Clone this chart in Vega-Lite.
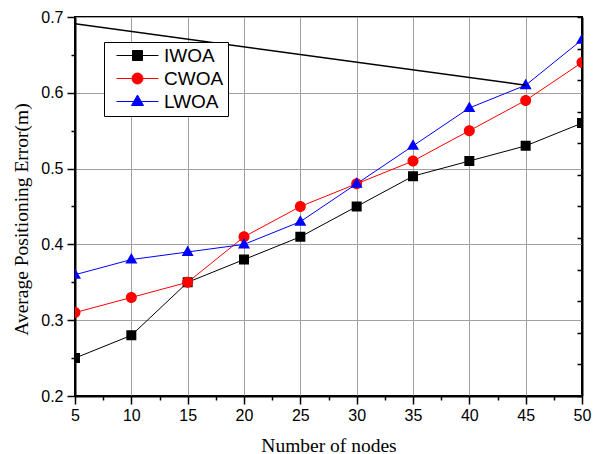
{
  "$schema": "https://vega.github.io/schema/vega-lite/v6.json",
  "width": 507,
  "height": 379,
  "autosize": {"type": "none"},
  "padding": {"left": 75, "top": 17, "right": 18, "bottom": 58},
  "background": "white",
  "config": {
    "view": {"stroke": "black", "strokeWidth": 2},
    "axis": {
      "labelFont": "Liberation Sans",
      "labelFontSize": 16,
      "labelColor": "black",
      "titleFont": "Liberation Serif",
      "titleFontSize": 19.5,
      "titleFontWeight": "normal",
      "titleColor": "black",
      "domainColor": "black",
      "domainWidth": 2,
      "tickColor": "black",
      "tickWidth": 1.5,
      "gridColor": "#a0a0a0",
      "gridWidth": 1
    },
    "legend": {
      "orient": "none",
      "legendX": 29,
      "legendY": 25,
      "padding": 4,
      "strokeColor": "black",
      "fillColor": "white",
      "labelFont": "Liberation Sans",
      "labelFontSize": 19,
      "labelColor": "black",
      "rowPadding": 3,
      "symbolOffset": 20,
      "labelOffset": 17,
      "symbolSize": 100,
      "symbolStrokeWidth": 1
    }
  },
  "datasets": {
    "series": [
      {"nodes": 5, "error": 0.25, "algo": "IWOA"},
      {"nodes": 10, "error": 0.28, "algo": "IWOA"},
      {"nodes": 15, "error": 0.35, "algo": "IWOA"},
      {"nodes": 20, "error": 0.38, "algo": "IWOA"},
      {"nodes": 25, "error": 0.41, "algo": "IWOA"},
      {"nodes": 30, "error": 0.45, "algo": "IWOA"},
      {"nodes": 35, "error": 0.49, "algo": "IWOA"},
      {"nodes": 40, "error": 0.51, "algo": "IWOA"},
      {"nodes": 45, "error": 0.53, "algo": "IWOA"},
      {"nodes": 50, "error": 0.56, "algo": "IWOA"},
      {"nodes": 5, "error": 0.31, "algo": "CWOA"},
      {"nodes": 10, "error": 0.33, "algo": "CWOA"},
      {"nodes": 15, "error": 0.35, "algo": "CWOA"},
      {"nodes": 20, "error": 0.41, "algo": "CWOA"},
      {"nodes": 25, "error": 0.45, "algo": "CWOA"},
      {"nodes": 30, "error": 0.48, "algo": "CWOA"},
      {"nodes": 35, "error": 0.51, "algo": "CWOA"},
      {"nodes": 40, "error": 0.55, "algo": "CWOA"},
      {"nodes": 45, "error": 0.59, "algo": "CWOA"},
      {"nodes": 50, "error": 0.64, "algo": "CWOA"},
      {"nodes": 5, "error": 0.36, "algo": "LWOA"},
      {"nodes": 10, "error": 0.38, "algo": "LWOA"},
      {"nodes": 15, "error": 0.39, "algo": "LWOA"},
      {"nodes": 20, "error": 0.40, "algo": "LWOA"},
      {"nodes": 25, "error": 0.43, "algo": "LWOA"},
      {"nodes": 30, "error": 0.48, "algo": "LWOA"},
      {"nodes": 35, "error": 0.53, "algo": "LWOA"},
      {"nodes": 40, "error": 0.58, "algo": "LWOA"},
      {"nodes": 45, "error": 0.61, "algo": "LWOA"},
      {"nodes": 50, "error": 0.67, "algo": "LWOA"}
    ],
    "stray": [
      {"nodes": 5, "error": 0.691},
      {"nodes": 45, "error": 0.61}
    ]
  },
  "resolve": {"axis": {"x": "independent", "y": "independent"}},
  "layer": [
    {
      "data": {"name": "series"},
      "mark": {"type": "line", "strokeWidth": 1, "clip": true},
      "encoding": {
        "x": {
          "field": "nodes", "type": "quantitative",
          "scale": {"domain": [5, 50], "nice": false, "zero": false},
          "axis": {
            "title": "Number of nodes",
            "values": [5, 7.5, 10, 12.5, 15, 17.5, 20, 22.5, 25, 27.5, 30, 32.5, 35, 37.5, 40, 42.5, 45, 47.5, 50],
            "labelExpr": "datum.value % 5 === 0 ? datum.label : ''",
            "labelFlush": false,
            "labelOverlap": false,
            "labelPadding": 3,
            "titlePadding": 13,
            "tickSize": {"condition": {"test": "datum.value % 5 === 0", "value": 8}, "value": 4},
            "gridOpacity": {"condition": {"test": "datum.value % 5 === 0", "value": 1}, "value": 0}
          }
        },
        "y": {
          "field": "error", "type": "quantitative",
          "scale": {"domain": [0.2, 0.7], "nice": false, "zero": false},
          "axis": {
            "title": "Average Positioning Error(m)",
            "titleY": 202,
            "values": [0.2, 0.25, 0.3, 0.35, 0.4, 0.45, 0.5, 0.55, 0.6, 0.65, 0.7],
            "format": ".1f",
            "labelExpr": "abs(datum.value * 10 - round(datum.value * 10)) < 0.001 ? datum.label : ''",
            "labelFlush": false,
            "labelOverlap": false,
            "labelPadding": 4,
            "titlePadding": 9,
            "tickSize": {"condition": {"test": "abs(datum.value * 10 - round(datum.value * 10)) < 0.001", "value": 8}, "value": 4},
            "gridOpacity": {"condition": {"test": "abs(datum.value * 10 - round(datum.value * 10)) < 0.001", "value": 1}, "value": 0}
          }
        },
        "color": {
          "field": "algo", "type": "nominal",
          "scale": {"domain": ["IWOA", "CWOA", "LWOA"], "range": ["black", "red", "blue"]},
          "legend": {
            "title": null,
            "encode": {
              "symbols": {
                "update": {
                  "stroke": {"scale": "color", "field": "value"},
                  "strokeWidth": {"value": 1},
                  "strokeOpacity": {"value": 1}
                }
              }
            }
          }
        }
      }
    },
    {
      "data": {"name": "series"},
      "mark": {"type": "point", "filled": true, "opacity": 1, "size": 100, "clip": true},
      "encoding": {
        "x": {"field": "nodes", "type": "quantitative", "axis": null},
        "y": {"field": "error", "type": "quantitative", "axis": null},
        "color": {
          "field": "algo", "type": "nominal",
          "legend": {
            "title": null,
            "encode": {
              "symbols": {
                "update": {
                  "stroke": {"scale": "color", "field": "value"},
                  "strokeWidth": {"value": 1},
                  "strokeOpacity": {"value": 1}
                }
              }
            }
          }
        },
        "shape": {
          "field": "algo", "type": "nominal",
          "scale": {
            "domain": ["IWOA", "CWOA", "LWOA"],
            "range": [
              "M-4.2,0H4.2M-1,-1H1V1H-1Z",
              "M-4.2,0H4.2M-1.1,0A1.1,1.1,0,1,0,1.1,0A1.1,1.1,0,1,0,-1.1,0Z",
              "M-4.2,0H4.2M0,-1.3L1.2,0.8H-1.2Z"
            ]
          },
          "legend": {"title": null}
        }
      }
    },
    {
      "data": {"name": "stray"},
      "mark": {"type": "line", "color": "black", "strokeWidth": 1.5, "clip": true},
      "encoding": {
        "x": {"field": "nodes", "type": "quantitative", "axis": null},
        "y": {
          "field": "error", "type": "quantitative",
          "axis": {
            "orient": "right",
            "title": null,
            "labels": false,
            "grid": false,
            "values": [0.2, 0.24167, 0.28333, 0.325, 0.36667, 0.40833, 0.45, 0.49167, 0.53333, 0.575, 0.61667, 0.65833, 0.7],
            "tickSize": -5
          }
        }
      }
    }
  ]
}
